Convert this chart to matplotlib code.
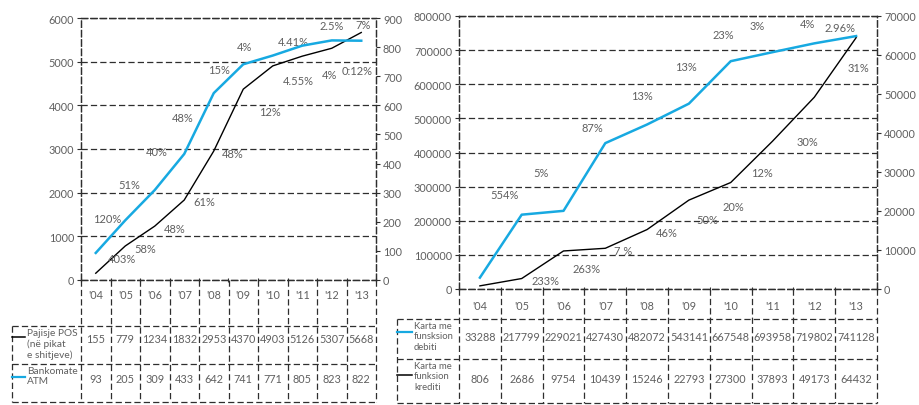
import matplotlib
matplotlib.use('Agg')
import matplotlib.pyplot as plt
import matplotlib.transforms as mtransforms
import numpy as np

plt.rcParams['font.family'] = ['Lato', 'DejaVu Sans']

years = ["'04", "'05", "'06", "'07", "'08", "'09", "'10", "'11", "'12", "'13"]
pos = [155, 779, 1234, 1832, 2953, 4370, 4903, 5126, 5307, 5668]
atm = [93, 205, 309, 433, 642, 741, 771, 805, 823, 822]
debit = [33288, 217799, 229021, 427430, 482072, 543141, 667548, 693958, 719802, 741128]
credit = [806, 2686, 9754, 10439, 15246, 22793, 27300, 37893, 49173, 64432]

# growth labels written on the left chart
left_pct = ['2.5%', '7%', '4.41%', '4%', '15%', '4.55%', '4%', '0:12%', '12%', '48%',
            '40%', '48%', '51%', '61%', '120%', '48%', '58%', '403%']
left_pct_xy = [(8.0, 5820), (9.06, 5860), (6.69, 5470), (5.03, 5340), (4.18, 4810),
               (6.86, 4580), (7.94, 4700), (8.86, 4790), (5.91, 3850), (2.96, 3730),
               (2.08, 2950), (4.65, 2890), (1.13, 2180), (3.67, 1790), (0.38, 1400),
               (2.69, 1190), (1.67, 730), (0.89, 500)]
# growth labels written on the right chart
right_pct = ['23%', '3%', '4%', '2.96%', '13%', '31%', '13%', '87%', '30%', '5%',
             '12%', '554%', '20%', '50%', '46%', '7 %', '263%', '233%']
right_pct_xy = [(5.82, 747000), (6.63, 773000), (7.83, 779000), (8.61, 765000),
                (4.93, 653000), (9.05, 650000), (3.88, 566000), (2.68, 472000),
                (7.83, 431000), (1.46, 340000), (6.75, 340000), (0.60, 278000),
                (6.06, 243000), (5.43, 205000), (4.48, 167000), (3.42, 114000),
                (2.56, 59000), (1.56, 26000)]

W, H = 920, 406
BLUE = '#17a9e1'
DARK = '#2e2e2e'
GREY = '#5f5f5f'
DASH = (0, (5, 2.5))
LW = 0.9


def box(x0, y0, x1, y1):
    return [x0 / W, 1 - y1 / H, (x1 - x0) / W, (y1 - y0) / H]


fig = plt.figure(figsize=(W / 100, H / 100), dpi=100)
over = fig.add_axes([0, 0, 1, 1], zorder=-1)
over.set_xlim(0, W)
over.set_ylim(H, 0)
over.axis('off')


def style(ax, ax2, ymax_l, step_l, ymax_r, step_r):
    ax.set_xlim(-0.5, 9.5)
    ax.set_ylim(0, ymax_l)
    ax2.set_ylim(0, ymax_r)
    ax.set_yticks(np.arange(0, ymax_l + 1, step_l))
    ax2.set_yticks(np.arange(0, ymax_r + 1, step_r))
    ax.set_xticks(np.arange(-0.5, 10, 1))
    ax.set_xticklabels([])
    ax.yaxis.grid(True, linestyle=DASH, color=DARK, lw=LW)
    for a in (ax, ax2):
        for s in a.spines.values():
            s.set_linestyle(DASH)
            s.set_color(DARK)
            s.set_linewidth(LW)
        a.tick_params(axis='y', length=3, width=0.8, color=DARK, labelcolor=GREY,
                      labelsize=7.8, pad=2)
    ax.tick_params(axis='x', length=3, width=0.8, color=DARK, direction='inout')
    ax.patch.set_alpha(0)


def table(ax, rows, names, colors, lab_y, top, mid, bot, left, text_x, val_y,
          name_y, name_size, right_px):
    tr = mtransforms.blended_transform_factory(ax.transData, over.transData)
    axbot = (1 - ax.get_position().y0) * H
    for b in np.arange(-0.5, 10, 1):
        over.plot([b, b], [axbot, bot], transform=tr, color=DARK, lw=LW,
                  linestyle=DASH, clip_on=False)
    for i, y in enumerate(years):
        over.text(i, lab_y, y, transform=tr, ha='center', va='center',
                  color=GREY, fontsize=7.8)
    for yy in (top, mid, bot):
        over.plot([left, right_px], [yy, yy], color=DARK, lw=LW, linestyle=DASH)
    over.plot([left, left], [top, bot], color=DARK, lw=LW, linestyle=DASH)
    for r, vals in enumerate(rows):
        for i, v in enumerate(vals):
            over.text(i, val_y[r], str(v), transform=tr, ha='center', va='center',
                      color=GREY, fontsize=7.8)
        ly = name_y[r]
        over.plot([left, text_x - 2], [ly, ly], color=colors[r], lw=1.6 if colors[r] == BLUE else 1.1)
        over.text(text_x, (top, mid)[r] + 2, names[r], ha='left', va='top',
                  color=GREY, fontsize=name_size, linespacing=1.2)


# left chart
ax = fig.add_axes(box(81, 19, 376, 281))
ax2 = ax.twinx()
style(ax, ax2, 6000, 1000, 900, 100)
x = np.arange(len(years))
ax.plot(x, pos, color='black', lw=1.0)
ax2.plot(x, atm, color=BLUE, lw=1.8)
for t, (px, py) in zip(left_pct, left_pct_xy):
    ax.text(px, py, t, ha='center', va='center', color=GREY, fontsize=8)
table(ax, [pos, atm], ['Pajisje POS\n(në pikat\ne shitjeve)', 'Bankomate\nATM'],
      ['black', BLUE], 296, 327, 365, 403, 12, 27, [340, 380], [338, 378], 7.3, 376)

# right chart
bx = fig.add_axes(box(459, 17, 877, 290))
bx2 = bx.twinx()
style(bx, bx2, 800000, 100000, 70000, 10000)
bx.plot(x, debit, color=BLUE, lw=1.8)
bx2.plot(x, credit, color='black', lw=1.0)
for t, (px, py) in zip(right_pct, right_pct_xy):
    bx.text(px, py, t, ha='center', va='center', color=GREY, fontsize=8)
table(bx, [debit, credit], ['Karta me\nfunsksion\ndebiti', 'Karta me\nfunksion\nkrediti'],
      [BLUE, 'black'], 307, 320, 360, 404, 397, 414, [338, 380], [333, 376], 6.8, 877)

fig.savefig('out.png', dpi=100)
